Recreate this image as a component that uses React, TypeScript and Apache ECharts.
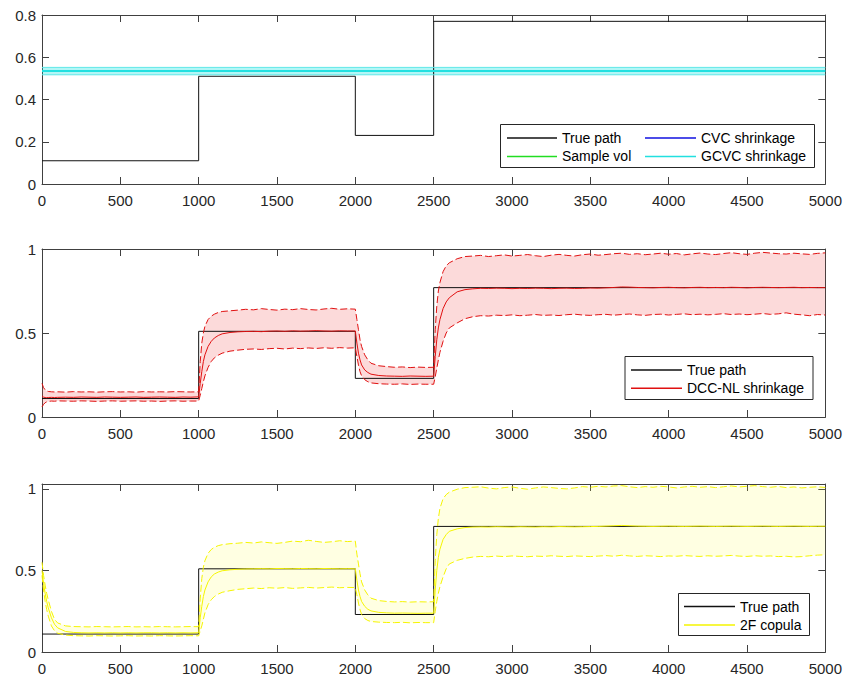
import React, { useEffect, useRef } from 'react';
import * as echarts from 'echarts';

// ---------- data ----------
const pathX = [0, 1000, 2000, 2500, 5000];
const pathY = [0.11, 0.51, 0.23, 0.77, 0.77];

const flatX = [0, 5000];
const sampleVol = [0.535, 0.535];
const cvcShrink = [0.535, 0.535];
const gcvcUp = [0.552, 0.552];
const gcvcMid = [0.535, 0.535];
const gcvcLo = [0.517, 0.517];

const xs = [
  0, 10, 20, 30, 40, 60, 80, 100, 150, 200, 250, 300, 350, 400, 450, 500, 550, 600, 650, 700, 750, 800, 850, 900, 950, 1000,
  1010, 1020, 1030, 1040, 1060, 1080, 1100, 1125, 1150, 1200, 1250, 1300, 1350, 1400, 1450, 1500, 1550, 1600, 1650, 1700, 1750, 1800, 1850, 1900, 1950, 2000,
  2010, 2020, 2030, 2040, 2060, 2080, 2100, 2150, 2200, 2250, 2300, 2350, 2400, 2450, 2500,
  2510, 2520, 2530, 2540, 2560, 2580, 2600, 2650, 2700, 2750, 2800, 2850, 2900, 2950, 3000, 3050, 3100, 3150, 3200, 3250, 3300, 3350, 3400, 3450, 3500, 3550, 3600, 3650, 3700, 3750, 3800, 3850, 3900, 3950, 4000, 4050, 4100, 4150, 4200, 4250, 4300, 4350, 4400, 4450, 4500, 4550, 4600, 4650, 4700, 4750, 4800, 4850, 4900, 4950, 5000,
];

const dccMid = [
  0.125, 0.118, 0.116, 0.115, 0.116, 0.117, 0.116, 0.117, 0.118, 0.117, 0.119, 0.118, 0.117, 0.119, 0.118, 0.117, 0.118, 0.119, 0.117, 0.118, 0.119, 0.118, 0.117, 0.119, 0.118, 0.12,
  0.2, 0.27, 0.33, 0.37, 0.42, 0.45, 0.47, 0.485, 0.495, 0.503, 0.507, 0.509, 0.51, 0.508, 0.511, 0.512, 0.51, 0.513, 0.511, 0.512, 0.514, 0.512, 0.511, 0.513, 0.512, 0.512,
  0.44, 0.38, 0.34, 0.31, 0.28, 0.265, 0.255, 0.247, 0.244, 0.243, 0.242, 0.244, 0.243, 0.242, 0.243,
  0.36, 0.46, 0.53, 0.58, 0.645, 0.685, 0.71, 0.745, 0.758, 0.763, 0.766, 0.765, 0.767, 0.766, 0.764, 0.766, 0.765, 0.767, 0.766, 0.764, 0.766, 0.767, 0.765, 0.766, 0.768, 0.767, 0.769, 0.771, 0.774, 0.773, 0.771, 0.77, 0.769, 0.771, 0.772, 0.77, 0.769, 0.771, 0.772, 0.77, 0.771, 0.77, 0.772, 0.771, 0.769, 0.771, 0.772, 0.771, 0.77, 0.771, 0.772, 0.77, 0.771, 0.77, 0.77,
];
const dccUp = [
  0.2, 0.175, 0.162, 0.155, 0.152, 0.15, 0.149, 0.15, 0.148, 0.151, 0.149, 0.15, 0.148, 0.15, 0.151, 0.149, 0.15, 0.148, 0.151, 0.149, 0.15, 0.149, 0.151, 0.15, 0.149, 0.15,
  0.33, 0.44, 0.5, 0.54, 0.58, 0.6, 0.612, 0.622, 0.628, 0.632, 0.636, 0.641, 0.638, 0.645, 0.64, 0.636, 0.642, 0.639, 0.645, 0.64, 0.637, 0.643, 0.647, 0.641, 0.644, 0.642,
  0.58, 0.52, 0.46, 0.42, 0.37, 0.34, 0.32, 0.305, 0.3, 0.296, 0.298, 0.294, 0.297, 0.295, 0.296,
  0.52, 0.66, 0.75, 0.8, 0.865, 0.9, 0.918, 0.942, 0.955, 0.958, 0.962, 0.955, 0.96, 0.965, 0.958, 0.962, 0.967, 0.96, 0.955, 0.963, 0.968, 0.962, 0.958, 0.966, 0.97, 0.963, 0.967, 0.972, 0.975, 0.968, 0.972, 0.966, 0.97, 0.975, 0.969, 0.973, 0.965, 0.971, 0.976, 0.97, 0.967, 0.973, 0.978, 0.972, 0.968, 0.975, 0.98, 0.976, 0.972, 0.97, 0.975, 0.971, 0.968, 0.974, 0.977,
];
const dccLo = [
  0.06, 0.075, 0.085, 0.09, 0.093, 0.095, 0.094, 0.096, 0.095, 0.094, 0.096, 0.095, 0.093, 0.095, 0.096, 0.094, 0.095, 0.096, 0.094, 0.095, 0.093, 0.095, 0.096, 0.094, 0.095, 0.095,
  0.13, 0.17, 0.21, 0.245, 0.295, 0.33, 0.352, 0.368, 0.38, 0.392, 0.398, 0.403, 0.405, 0.402, 0.407, 0.409, 0.405, 0.41, 0.407, 0.411, 0.408, 0.412, 0.409, 0.413, 0.41, 0.412,
  0.36, 0.31, 0.27, 0.245, 0.222, 0.21, 0.203, 0.198, 0.196, 0.195, 0.197, 0.194, 0.196, 0.195, 0.195,
  0.24, 0.29, 0.34, 0.385, 0.45, 0.5, 0.53, 0.56, 0.585, 0.597, 0.603, 0.601, 0.606, 0.604, 0.608, 0.603, 0.606, 0.61, 0.605, 0.607, 0.604, 0.609, 0.612, 0.607, 0.605, 0.609, 0.611, 0.606, 0.61, 0.613, 0.608, 0.605, 0.61, 0.612, 0.607, 0.611, 0.614, 0.609, 0.612, 0.608, 0.611, 0.615, 0.61, 0.613, 0.609, 0.612, 0.616, 0.611, 0.614, 0.62, 0.612, 0.608, 0.603, 0.61, 0.607,
];

const copMid = [
  0.5, 0.42, 0.36, 0.31, 0.27, 0.21, 0.17, 0.148, 0.126, 0.12, 0.118, 0.117, 0.118, 0.117, 0.118, 0.117, 0.118, 0.117, 0.118, 0.118, 0.117, 0.118, 0.117, 0.118, 0.117, 0.118,
  0.21, 0.28, 0.34, 0.38, 0.43, 0.46, 0.478, 0.49, 0.498, 0.504, 0.507, 0.509, 0.51, 0.511, 0.51, 0.512, 0.511, 0.51, 0.512, 0.511, 0.51, 0.512, 0.511, 0.51, 0.511, 0.51,
  0.44, 0.38, 0.34, 0.31, 0.28, 0.262, 0.252, 0.243, 0.24, 0.238, 0.239, 0.238, 0.237, 0.238, 0.238,
  0.38, 0.5, 0.58, 0.63, 0.69, 0.72, 0.74, 0.755, 0.763, 0.766, 0.767, 0.766, 0.768, 0.767, 0.766, 0.768, 0.767, 0.766, 0.768, 0.767, 0.769, 0.768, 0.767, 0.768, 0.769, 0.77, 0.772, 0.774, 0.776, 0.774, 0.772, 0.771, 0.77, 0.771, 0.772, 0.771, 0.77, 0.771, 0.772, 0.771, 0.77, 0.771, 0.772, 0.771, 0.77, 0.771, 0.772, 0.771, 0.77, 0.771, 0.772, 0.771, 0.77, 0.771, 0.771,
];
const copUp = [
  0.55, 0.47, 0.41, 0.36, 0.32, 0.25, 0.2, 0.178, 0.16, 0.156, 0.155, 0.154, 0.156, 0.155, 0.154, 0.155, 0.156, 0.154, 0.155, 0.154, 0.156, 0.155, 0.154, 0.155, 0.156, 0.155,
  0.33, 0.45, 0.52, 0.56, 0.605, 0.628, 0.642, 0.652, 0.658, 0.664, 0.667, 0.672, 0.668, 0.675, 0.67, 0.666, 0.672, 0.68, 0.676, 0.685, 0.678, 0.672, 0.676, 0.682, 0.677, 0.68,
  0.6, 0.54, 0.48, 0.43, 0.38, 0.35, 0.33, 0.315, 0.31, 0.307, 0.309, 0.306, 0.308, 0.307, 0.308,
  0.56, 0.72, 0.82, 0.88, 0.94, 0.965, 0.98, 0.998, 1.008, 1.01, 1.013, 1.005, 1.0, 1.008, 1.012, 1.004, 0.998, 1.006, 1.012, 1.008, 1.003, 1.0, 1.006, 1.014, 1.01, 1.016, 1.012, 1.018, 1.02, 1.013, 1.008, 1.014, 1.01, 1.016, 1.012, 1.006, 1.012, 1.016, 1.01, 1.014, 1.008, 1.013, 1.018, 1.012, 1.016, 1.02, 1.014, 1.01, 1.015, 1.008, 1.012, 1.006, 1.01, 1.013, 1.009,
];
const copLo = [
  0.47, 0.38, 0.31, 0.26, 0.22, 0.16, 0.13, 0.115, 0.104, 0.1, 0.099, 0.098, 0.1, 0.099, 0.098, 0.099, 0.1, 0.098, 0.099, 0.098, 0.1, 0.099, 0.098, 0.099, 0.1, 0.099,
  0.13, 0.16, 0.2, 0.24, 0.29, 0.32, 0.34, 0.355, 0.366, 0.376, 0.384, 0.388, 0.392, 0.389, 0.394, 0.391, 0.395, 0.39, 0.393, 0.396, 0.392, 0.395, 0.398, 0.394, 0.396, 0.395,
  0.35, 0.3, 0.26, 0.23, 0.205, 0.193, 0.187, 0.183, 0.181, 0.18, 0.182, 0.179, 0.181, 0.18, 0.18,
  0.25, 0.31, 0.36, 0.4, 0.46, 0.51, 0.54, 0.562, 0.574, 0.582, 0.586, 0.584, 0.588, 0.585, 0.589, 0.586, 0.584, 0.588, 0.586, 0.59, 0.587, 0.585, 0.589, 0.587, 0.585, 0.588, 0.591, 0.587, 0.593, 0.589, 0.586, 0.59, 0.588, 0.585, 0.589, 0.587, 0.591, 0.588, 0.586, 0.59, 0.587, 0.589, 0.592, 0.588, 0.586, 0.59, 0.587, 0.589, 0.585, 0.587, 0.583, 0.585, 0.59, 0.594, 0.596,
];

const xTicks = { min: 0, max: 5000, interval: 500 };
const yMax = [0.8, 1, 1.03];
const yInterval = [0.2, 0.5, 0.5];

// ---------- helpers ----------
const FONT = "'Liberation Sans', Arial, Helvetica, sans-serif";
const AXIS = '#404040';
const LABEL = '#262626';
const pts = (x: number[], y: number[]) => x.map((v, i) => [v, y[i]]);
const fmt = (v: number) => String(+(+v).toFixed(2));

const grids = [
  { left: 42, top: 15, width: 784, height: 169 },
  { left: 42, top: 249, width: 784, height: 168 },
  { left: 42, top: 484, width: 784, height: 168 },
];

function buildOption() {
  const xAxis: any[] = [];
  const yAxis: any[] = [];
  grids.forEach((_, g) => {
    const common = {
      type: 'value',
      gridIndex: g,
      ...xTicks,
      splitLine: { show: false },
      axisLine: { show: true, onZero: false, lineStyle: { color: AXIS, width: 1 } },
      axisTick: { show: true, inside: true, length: 7, lineStyle: { color: AXIS } },
    };
    xAxis.push({
      ...common,
      position: 'bottom',
      axisLabel: { color: LABEL, fontSize: 15, fontFamily: FONT, margin: 9, formatter: fmt },
    });
    xAxis.push({ ...common, position: 'top', axisLabel: { show: false } });
    const ycommon = {
      type: 'value',
      gridIndex: g,
      min: 0,
      max: yMax[g],
      interval: yInterval[g],
      splitLine: { show: false },
      axisLine: { show: true, onZero: false, lineStyle: { color: AXIS, width: 1 } },
      axisTick: { show: true, inside: true, length: 7, lineStyle: { color: AXIS } },
    };
    yAxis.push({
      ...ycommon,
      position: 'left',
      axisLabel: { color: LABEL, fontSize: 15, fontFamily: FONT, margin: 6, formatter: fmt, showMaxLabel: g === 2 ? false : true },
    });
    yAxis.push({ ...ycommon, position: 'right', axisLabel: { show: false } });
  });

  const line = (name: string, g: number, data: any[], color: string, width = 1, lsExtra: any = {}, extra: any = {}) => ({
    type: 'line',
    name,
    xAxisIndex: g * 2,
    yAxisIndex: g * 2,
    data,
    symbol: 'none',
    showSymbol: false,
    silent: true,
    lineStyle: { color, width, ...lsExtra },
    itemStyle: { color },
    ...extra,
  });

  const band = (name: string, g: number, x: number[], lo: number[], up: number[], fill: string) => ({
    type: 'custom',
    name,
    xAxisIndex: g * 2,
    yAxisIndex: g * 2,
    silent: true,
    data: [[x[0], lo[0]]],
    renderItem: (_p: any, api: any) => {
      const top = x.map((v, i) => api.coord([v, up[i]]));
      const bot = x.map((v, i) => api.coord([v, lo[i]])).reverse();
      return { type: 'polygon', shape: { points: top.concat(bot) }, style: { fill, stroke: 'none' } };
    },
  });

  const RED = '#e01010';
  const YEL = '#f5f500';
  const CYAN = '#22e0e0';
  const dash = { type: [7, 3] };

  const series: any[] = [
    // panel 1
    line('True path', 0, pts(pathX, pathY), '#111111', 1, {}, { step: 'end' }),
    line('Sample vol', 0, pts(flatX, sampleVol), '#22dd22', 1),
    line('CVC shrinkage', 0, pts(flatX, cvcShrink), '#1010e0', 1),
    band('gcvc band', 0, flatX, gcvcLo, gcvcUp, 'rgba(0,225,225,0.3)'),
    line('GCVC upper', 0, pts(flatX, gcvcUp), '#5ee8e8', 1),
    line('GCVC lower', 0, pts(flatX, gcvcLo), '#5ee8e8', 1),
    line('GCVC shrinkage', 0, pts(flatX, gcvcMid), CYAN, 2),
    // panel 2
    line('True path', 1, pts(pathX, pathY), '#111111', 1, {}, { step: 'end' }),
    band('dcc band', 1, xs, dccLo, dccUp, 'rgba(240,70,70,0.2)'),
    line('DCC upper', 1, pts(xs, dccUp), RED, 1, dash),
    line('DCC lower', 1, pts(xs, dccLo), RED, 1, dash),
    line('DCC-NL shrinkage', 1, pts(xs, dccMid), RED, 1),
    // panel 3
    line('True path', 2, pts(pathX, pathY), '#111111', 1, {}, { step: 'end' }),
    band('cop band', 2, xs, copLo, copUp, 'rgba(255,255,60,0.15)'),
    line('2F upper', 2, pts(xs, copUp), YEL, 1, dash),
    line('2F lower', 2, pts(xs, copLo), YEL, 1, dash),
    line('2F copula', 2, pts(xs, copMid), YEL, 1),
  ];

  const legendBase = {
    orient: 'vertical',
    padding: 0,
    itemHeight: 1.5,
    icon: 'rect',
    selectedMode: false,
    z: 200,
    textStyle: { color: '#000', fontSize: 14, fontFamily: FONT, lineHeight: 14 },
  };

  const legend = [
    { ...legendBase, left: 507, top: 131, itemWidth: 50, itemGap: 4.4, data: ['True path', 'Sample vol'] },
    { ...legendBase, left: 645, top: 131, itemWidth: 51, itemGap: 4.4, data: ['CVC shrinkage', 'GCVC shrinkage'] },
    { ...legendBase, left: 631, top: 363, itemWidth: 51, itemGap: 4.3, data: ['True path', 'DCC-NL shrinkage'] },
    { ...legendBase, left: 684, top: 599.5, itemWidth: 51, itemGap: 4.6, data: ['True path', '2F copula'] },
  ];

  const box = (x: number, y: number, w: number, h: number) => ({
    type: 'rect', z: 100, silent: true,
    shape: { x, y, width: w, height: h },
    style: { fill: '#ffffff', stroke: '#262626', lineWidth: 1 },
  });

  return {
    animation: false,
    backgroundColor: '#ffffff',
    grid: grids.map((g) => ({ ...g, containLabel: false })),
    xAxis,
    yAxis,
    legend,
    series,
    graphic: [
      box(500.5, 124.5, 314, 43),
      box(625, 356.5, 188, 43),
      box(678.5, 593.5, 131, 42),
    ],
  };
}

export default function App() {
  const ref = useRef<HTMLDivElement>(null);
  useEffect(() => {
    document.body.style.margin = '0';
    const chart = echarts.init(ref.current as HTMLDivElement, null, { renderer: 'svg' });
    chart.setOption(buildOption() as any);
    return () => chart.dispose();
  }, []);
  return <div ref={ref} style={{ width: 845, height: 677 }} />;
}
